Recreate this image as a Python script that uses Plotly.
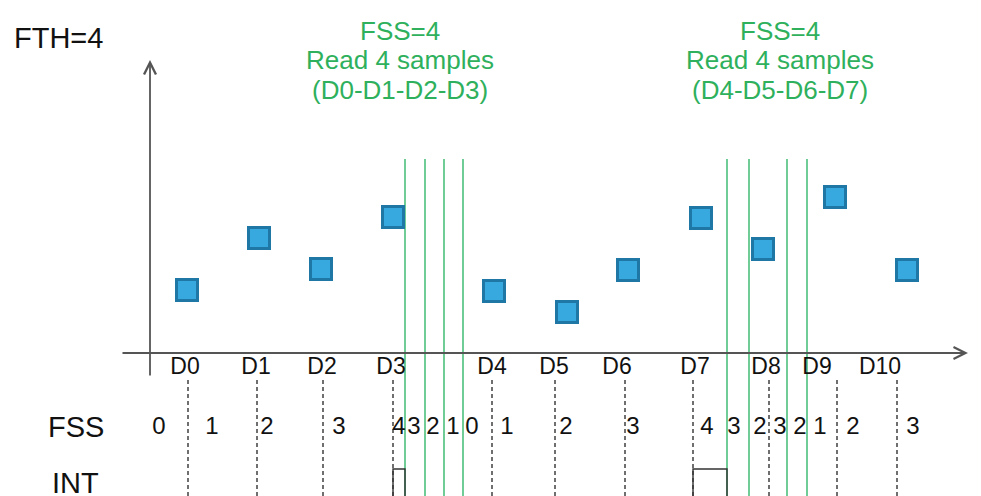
import plotly.graph_objects as go

# ---- data ----
sample_labels = ["D0", "D1", "D2", "D3", "D4", "D5", "D6", "D7", "D8", "D9", "D10"]
sample_t = [37, 109, 171, 243, 344, 417, 478, 551, 613, 685, 757]      # marker time
sample_value = [63, 115, 84, 136, 62, 41, 83, 135, 104, 156, 83]      # amplitude
tick_t = [38, 107, 173, 243, 342, 405, 475, 543, 619, 687, 747]       # dashed sample instants
label_t = [35, 106, 172, 241, 342, 404, 467, 545, 616, 667, 730]      # label positions

read_t = [255, 275, 294, 313, 577, 599, 637, 657]                     # FIFO read instants
fss_t = [9, 62, 117, 189, 249, 264, 283, 303, 322, 357, 416, 483, 557, 584, 610, 630, 650, 670, 703, 763]
fss_values = ["0", "1", "2", "3", "4", "3", "2", "1", "0", "1", "2", "3", "4", "3", "2", "3", "2", "1", "2", "3"]

int_start = [243, 543]
int_end = [255, 577]

read_groups_t = [250, 630]
read_groups_lines = [["FSS=4", "Read 4 samples", "(D0-D1-D2-D3)"],
                     ["FSS=4", "Read 4 samples", "(D4-D5-D6-D7)"]]

# ---- view window (page body adds an 8px offset) ----
Y_TOP, Y_BOT = 345, -151
X_LEFT, X_RIGHT = -142, 839
FONT = "Liberation Sans, Arial, sans-serif"
GREEN_TXT = "#2EB05C"
GREEN_LINE = "#4CC07C"
AXIS = "#555555"
BOTTOM = -160
TITLE_LINE_Y = [322, 293, 263]

fig = go.Figure()

# green read lines
gx, gy = [], []
for t in read_t:
    gx += [t, t, None]
    gy += [194, BOTTOM, None]
fig.add_trace(go.Scatter(x=gx, y=gy, mode="lines",
                         line=dict(color=GREEN_LINE, width=1.6), hoverinfo="skip"))

# dashed sample lines
dx, dy = [], []
for t in tick_t:
    dx += [t, t, None]
    dy += [-27, BOTTOM, None]
fig.add_trace(go.Scatter(x=dx, y=dy, mode="lines",
                         line=dict(color="#333333", width=1.4, dash="4px,3px"), hoverinfo="skip"))

# INT pulses
ix, iy = [], []
for a, b in zip(int_start, int_end):
    ix += [a, a, b, b, None]
    iy += [BOTTOM, -116, -116, BOTTOM, None]
fig.add_trace(go.Scatter(x=ix, y=iy, mode="lines",
                         line=dict(color="#333333", width=1.4), hoverinfo="skip"))

# samples
fig.add_trace(go.Scatter(x=sample_t, y=sample_value, mode="markers",
                         marker=dict(symbol="square", size=21, color="#38A9DE",
                                     line=dict(color="#1F77A6", width=3)),
                         hoverinfo="skip"))

# sample labels
fig.add_trace(go.Scatter(x=label_t, y=[-15] * len(label_t), mode="text", text=sample_labels,
                         textfont=dict(family=FONT, size=23, color="#111111"), hoverinfo="skip"))

# FSS values
fig.add_trace(go.Scatter(x=fss_t, y=[-75] * len(fss_t), mode="text", text=fss_values,
                         textfont=dict(family=FONT, size=24, color="#111111"), hoverinfo="skip"))

annotations = []
# axes arrows
annotations.append(dict(x=0, y=293, ax=0, ay=-24, xref="x", yref="y", axref="x", ayref="y",
                        text="", showarrow=True, arrowhead=5, arrowsize=1.3, arrowwidth=1.8,
                        arrowcolor=AXIS, standoff=0))
annotations.append(dict(x=818, y=0, ax=-29, ay=0, xref="x", yref="y", axref="x", ayref="y",
                        text="", showarrow=True, arrowhead=5, arrowsize=1.3, arrowwidth=1.8,
                        arrowcolor=AXIS, standoff=0))
# labels
annotations.append(dict(x=-92, y=315, xref="x", yref="y", text="FTH=4", showarrow=False,
                        font=dict(family=FONT, size=29, color="#111111")))
annotations.append(dict(x=-74, y=-74, xref="x", yref="y", text="FSS", showarrow=False,
                        font=dict(family=FONT, size=29, color="#111111")))
annotations.append(dict(x=-75, y=-130, xref="x", yref="y", text="INT", showarrow=False,
                        font=dict(family=FONT, size=29, color="#111111")))
for t, lines in zip(read_groups_t, read_groups_lines):
    for ly, txt in zip(TITLE_LINE_Y, lines):
        annotations.append(dict(x=t, y=ly, xref="x", yref="y", text=txt, showarrow=False,
                                align="center", font=dict(family=FONT, size=26, color=GREEN_TXT)))

fig.update_layout(
    width=981, height=496, margin=dict(l=0, r=0, t=0, b=0),
    paper_bgcolor="white", plot_bgcolor="white", showlegend=False,
    xaxis=dict(range=[X_LEFT, X_RIGHT], visible=False, fixedrange=True),
    yaxis=dict(range=[Y_BOT, Y_TOP], visible=False, fixedrange=True),
    annotations=annotations,
)

fig.write_html("out.html")
